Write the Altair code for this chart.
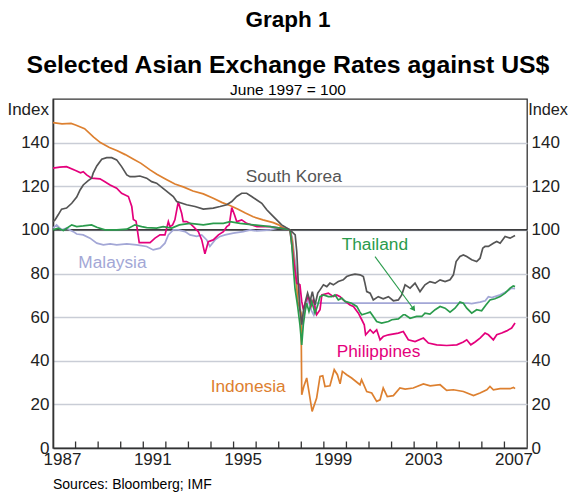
import altair as alt
import pandas as pd

# ---------------- data (index, June 1997 = 100) ----------------
countries = ["Malaysia", "Indonesia", "Philippines", "Thailand", "South Korea"]
colors = ["#A3A7D6", "#DD8030", "#E4007C", "#2A9B4C", "#555555"]

kor_year = [1987.0, 1987.09, 1987.23, 1987.38, 1987.6, 1987.83, 1988.05, 1988.2, 1988.34, 1988.56,
            1988.71, 1988.78, 1988.94, 1989.16, 1989.38, 1989.6, 1989.82, 1990.04, 1990.27, 1990.41,
            1990.63, 1990.85, 1991.15, 1991.37, 1991.59, 1991.96, 1992.33, 1992.48, 1992.92, 1993.29,
            1993.66, 1994.1, 1994.4, 1994.7, 1994.92, 1995.14, 1995.36, 1995.58, 1995.8, 1996.03,
            1996.25, 1996.47, 1996.69, 1996.91, 1997.13, 1997.5, 1997.73, 1997.8, 1997.87, 1997.94,
            1998.02, 1998.09, 1998.2, 1998.28, 1998.39, 1998.49, 1998.61, 1998.73, 1998.83, 1998.98,
            1999.13, 1999.27, 1999.42, 1999.64, 1999.86, 2000.01, 2000.23, 2000.38, 2000.6, 2000.75,
            2000.82, 2000.9, 2001.05, 2001.19, 2001.41, 2001.63, 2001.86, 2002.08, 2002.3, 2002.45,
            2002.6, 2002.82, 2003.04, 2003.26, 2003.48, 2003.7, 2003.93, 2004.15, 2004.37, 2004.59,
            2004.74, 2004.86, 2005.03, 2005.18, 2005.33, 2005.55, 2005.77, 2005.92, 2006.04, 2006.14,
            2006.29, 2006.51, 2006.66, 2006.81, 2007.03, 2007.25, 2007.47]
kor_val = [103.8, 104.6, 106.9, 109.5, 110.0, 112.2, 115.0, 118.3, 120.6, 122.6,
           123.7, 126.0, 129.3, 132.4, 133.1, 133.1, 132.1, 129.0, 125.2, 124.4,
           124.4, 124.7, 123.7, 122.1, 121.4, 118.3, 115.3, 113.0, 111.5, 110.7,
           109.5, 110.0, 110.7, 111.5, 113.0, 115.3, 116.8, 116.8, 115.3, 113.7,
           112.2, 109.2, 106.9, 104.6, 102.3, 100.0, 97.7, 90.0, 74.8, 63.4,
           56.5, 62.6, 67.9, 71.0, 67.2, 71.7, 65.6, 71.0, 72.5, 74.8,
           74.0, 75.6, 74.8, 76.3, 77.1, 78.6, 79.4, 79.7, 79.4, 78.6,
           75.6, 71.7, 71.0, 67.9, 69.4, 68.4, 69.4, 67.5, 67.9, 70.2,
           74.8, 73.3, 75.6, 71.7, 74.8, 76.3, 75.6, 77.1, 76.3, 77.1,
           79.4, 85.5, 87.8, 88.5, 87.8, 86.3, 85.5, 87.0, 91.6, 92.4,
           92.4, 93.9, 94.7, 93.9, 97.0, 96.2, 97.4]

idn_year = [1987.0, 1987.4, 1987.8, 1988.0, 1988.4, 1988.8, 1989.1, 1989.5, 1989.85, 1990.2,
            1990.55, 1990.9, 1991.3, 1991.6, 1992.0, 1992.4, 1992.8, 1993.2, 1993.66, 1994.1,
            1994.5, 1994.84, 1995.2, 1995.5, 1995.87, 1996.3, 1996.76, 1997.0, 1997.2, 1997.5,
            1997.6, 1997.7, 1997.77, 1997.85, 1997.93, 1997.99, 1998.02, 1998.11, 1998.24, 1998.35,
            1998.48, 1998.68, 1998.83, 1998.95, 1999.05, 1999.27, 1999.46, 1999.6, 1999.72, 1999.82,
            2000.01, 2000.23, 2000.6, 2000.67, 2000.9, 2001.12, 2001.34, 2001.49, 2001.63, 2001.81,
            2002.08, 2002.37, 2002.6, 2002.96, 2003.41, 2003.71, 2004.15, 2004.44, 2004.74, 2005.18,
            2005.63, 2005.92, 2006.22, 2006.36, 2006.51, 2006.81, 2007.25, 2007.4, 2007.47]
idn_val = [149.2, 148.6, 148.8, 148.1, 146.4, 142.5, 140.0, 137.8, 136.3, 134.5,
           132.5, 130.5, 127.5, 125.5, 123.2, 121.0, 119.6, 117.8, 116.5, 114.5,
           112.5, 111.2, 109.5, 107.8, 106.0, 104.6, 103.3, 102.3, 100.9, 100.0,
           95.0, 84.0, 77.0, 67.0, 64.0, 62.0, 24.4, 28.2, 32.1, 25.2,
           16.8, 22.9, 32.8, 33.1, 28.2, 28.5, 35.9, 33.6, 29.4, 35.1,
           33.6, 32.1, 29.0, 31.3, 25.9, 25.2, 21.4, 22.1, 27.5, 23.6,
           24.0, 27.5, 27.0, 27.5, 29.4, 28.5, 29.0, 26.4, 26.7, 25.9,
           24.0, 25.2, 26.7, 28.2, 26.7, 27.2, 27.2, 27.8, 27.2]

phl_year = [1987.0, 1987.3, 1987.6, 1988.0, 1988.22, 1988.34, 1988.49, 1988.71, 1989.08, 1989.3,
            1989.53, 1989.82, 1990.04, 1990.34, 1990.49, 1990.56, 1990.68, 1990.82, 1991.3, 1991.52,
            1991.74, 1991.96, 1992.11, 1992.18, 1992.3, 1992.4, 1992.55, 1992.7, 1992.77, 1992.92,
            1993.07, 1993.22, 1993.44, 1993.59, 1993.73, 1993.88, 1994.1, 1994.33, 1994.55, 1994.7,
            1994.81, 1994.92, 1995.04, 1995.14, 1995.36, 1995.58, 1996.03, 1996.62, 1997.06, 1997.5,
            1997.65, 1997.8, 1997.94, 1998.02, 1998.09, 1998.2, 1998.31, 1998.43, 1998.53, 1998.68,
            1998.83, 1998.91, 1999.2, 1999.42, 1999.57, 1999.72, 1999.86, 2000.16, 2000.31, 2000.53,
            2000.68, 2000.79, 2000.85, 2001.05, 2001.19, 2001.34, 2001.49, 2001.63, 2001.86, 2002.3,
            2002.52, 2002.74, 2003.04, 2003.41, 2003.63, 2004.0, 2004.44, 2004.89, 2005.18, 2005.33,
            2005.51, 2005.7, 2005.92, 2006.14, 2006.29, 2006.51, 2006.66, 2006.88, 2007.1, 2007.32,
            2007.47]
phl_val = [128.3, 128.8, 129.0, 127.2, 126.2, 126.7, 125.2, 123.7, 123.4, 122.1,
           120.6, 119.1, 116.8, 115.3, 110.7, 104.8, 104.0, 94.2, 94.2, 96.2,
           97.7, 97.7, 103.8, 101.5, 102.3, 104.6, 112.8, 107.6, 103.8, 103.8,
           103.0, 101.5, 99.2, 95.4, 89.0, 94.6, 95.4, 97.7, 99.2, 101.5,
           102.3, 110.2, 106.9, 103.8, 104.6, 103.0, 101.5, 101.5, 100.8, 100.0,
           87.0, 75.6, 74.8, 67.2, 63.4, 67.2, 69.4, 64.9, 67.9, 61.1,
           63.4, 70.2, 71.0, 69.4, 70.2, 69.4, 67.9, 65.6, 64.9, 61.8,
           58.8, 56.5, 51.9, 54.2, 52.7, 54.2, 49.6, 51.1, 51.9, 52.7,
           53.4, 49.6, 48.8, 50.4, 48.1, 47.3, 47.0, 47.3, 48.6, 49.6,
           47.3, 48.6, 50.4, 52.7, 51.9, 49.6, 51.9, 52.7, 53.7, 55.0,
           57.3]

tha_year = [1987.0, 1987.23, 1987.46, 1987.83, 1988.05, 1988.34, 1988.71, 1988.94, 1989.3, 1989.82,
            1990.27, 1990.63, 1990.93, 1991.15, 1991.59, 1991.88, 1992.26, 1992.6, 1993.07, 1993.66,
            1994.1, 1994.55, 1994.84, 1995.29, 1995.87, 1996.62, 1997.06, 1997.5, 1997.58, 1997.65,
            1997.72, 1997.84, 1997.94, 1998.02, 1998.09, 1998.17, 1998.24, 1998.34, 1998.46, 1998.61,
            1998.73, 1998.83, 1998.98, 1999.2, 1999.35, 1999.49, 1999.64, 1999.79, 1999.94, 2000.23,
            2000.46, 2000.6, 2000.68, 2000.9, 2001.05, 2001.19, 2001.34, 2001.56, 2001.86, 2002.01,
            2002.3, 2002.52, 2002.6, 2002.82, 2003.11, 2003.34, 2003.48, 2003.7, 2003.93, 2004.15,
            2004.37, 2004.59, 2004.81, 2005.03, 2005.18, 2005.33, 2005.55, 2005.77, 2005.99, 2006.18,
            2006.36, 2006.58, 2006.81, 2007.03, 2007.25, 2007.39, 2007.47]
tha_val = [100.0, 100.8, 99.7, 102.3, 101.5, 101.8, 102.3, 101.2, 100.0, 100.0,
           100.3, 102.3, 101.5, 101.0, 100.8, 101.5, 100.8, 102.3, 103.0, 102.3,
           103.0, 103.0, 103.8, 103.0, 102.3, 101.5, 100.8, 100.0, 93.1, 82.4,
           73.3, 64.9, 56.5, 47.3, 56.5, 62.6, 66.4, 62.6, 67.2, 61.8,
           65.6, 69.4, 70.2, 69.4, 69.4, 70.2, 67.9, 68.7, 67.2, 66.4,
           64.9, 62.3, 61.1, 61.8, 62.3, 60.3, 58.0, 57.3, 58.0, 58.8,
           59.2, 61.1, 61.1, 59.5, 60.3, 60.3, 61.8, 61.4, 63.4, 64.9,
           64.1, 62.3, 64.1, 66.9, 66.4, 64.1, 61.8, 63.4, 62.9, 65.6,
           67.9, 68.4, 69.4, 71.0, 73.3, 74.3, 74.0]

mys_year = [1987.0, 1987.16, 1987.38, 1987.6, 1987.9, 1988.05, 1988.34, 1988.64, 1988.94, 1989.23,
            1989.53, 1989.82, 1990.27, 1990.71, 1991.15, 1991.44, 1991.74, 1991.96, 1992.11, 1992.33,
            1992.55, 1992.85, 1993.07, 1993.37, 1993.59, 1993.81, 1993.95, 1994.18, 1994.4, 1994.62,
            1994.99, 1995.43, 1995.73, 1996.03, 1996.62, 1997.2, 1997.5, 1997.6, 1997.7, 1997.8,
            1997.9, 1997.97, 1998.03, 1998.1, 1998.2, 1998.3, 1998.45, 1998.55, 1998.65, 2000.0,
            2002.0, 2004.0, 2005.4, 2005.55, 2005.92, 2006.15, 2006.29, 2006.44, 2006.81, 2007.1,
            2007.32, 2007.47]
mys_val = [100.8, 102.3, 100.0, 100.8, 99.2, 98.1, 97.7, 96.2, 93.9, 93.1,
           93.6, 93.1, 93.6, 93.1, 92.4, 90.8, 91.6, 93.9, 97.7, 100.0,
           100.0, 99.2, 97.7, 97.0, 97.7, 95.4, 92.4, 95.4, 97.0, 97.7,
           98.5, 99.2, 100.0, 99.5, 100.0, 101.5, 100.0, 96.5, 88.0, 80.0,
           74.0, 62.0, 54.0, 60.0, 65.0, 68.0, 63.0, 61.0, 66.4, 66.4,
           66.4, 66.4, 66.4, 66.2, 66.9, 67.5, 69.4, 69.0, 70.2, 71.7,
           73.3, 73.0]

y_ticks = [0, 20, 40, 60, 80, 100, 120, 140]
x_label_years = [1987, 1991, 1995, 1999, 2003, 2007]
x_tick_years = list(range(1988, 2008))

series = {
    "Malaysia": (mys_year, mys_val),
    "Indonesia": (idn_year, idn_val),
    "Philippines": (phl_year, phl_val),
    "Thailand": (tha_year, tha_val),
    "South Korea": (kor_year, kor_val),
}
rows = []
for name, (ys, vs) in series.items():
    for yr, v in zip(ys, vs):
        rows.append({"country": name, "year": yr, "value": v})
df = pd.DataFrame(rows)

# ---------------- chart ----------------
FONT = "Liberation Sans"
W, H = 474, 349
xscale = alt.Scale(domain=[1987, 2008], nice=False, zero=False)
yscale = alt.Scale(domain=[0, 160], nice=False)
cscale = alt.Scale(domain=countries, range=colors)

x_axis = alt.Axis(values=[y + 0.4 for y in x_label_years], labelExpr="'' + floor(datum.value)",
                  ticks=False, grid=False, domainColor="#333333", domainWidth=1.6,
                  labelFontSize=17, labelPadding=3, labelColor="#222222", title=None,
                  labelFlush=False)
y_axis_left = alt.Axis(values=y_ticks, ticks=False, grid=True, gridColor="#C9CDD6", gridWidth=1.4,
                       domainColor="#333333", domainWidth=1.6, labelFontSize=17, labelPadding=4,
                       labelColor="#222222", title=None)

line_layers = []
for name in countries:
    line_layers.append(
        alt.Chart(df).transform_filter(alt.datum.country == name).mark_line(strokeWidth=1.7).encode(
            x=alt.X("year:Q", scale=xscale, axis=x_axis),
            y=alt.Y("value:Q", scale=yscale, axis=y_axis_left),
            color=alt.Color("country:N", scale=cscale, legend=None),
        )
    )
lines = alt.layer(*line_layers)

ref_rule = alt.Chart(pd.DataFrame({"v": [100]})).mark_rule(color="#000000", strokeWidth=1.3).encode(
    y=alt.Y("v:Q", scale=yscale,
            axis=alt.Axis(orient="right", values=y_ticks, ticks=False, grid=False, domain=False,
                          labelFontSize=17, labelPadding=4, labelColor="#222222", title=None))
)

xticks = alt.Chart(pd.DataFrame({"year": x_tick_years})).mark_rule(color="#333333", strokeWidth=1.3).encode(
    x=alt.X("year:Q", scale=xscale, axis=x_axis),
    y=alt.value(H), y2=alt.value(H - 6.5),
)


def label(text, x, y, size=17.3, color="#222222", align="left", weight="normal"):
    return alt.Chart(pd.DataFrame({"t": [text]})).mark_text(
        align=align, baseline="alphabetic", fontSize=size, color=color, fontWeight=weight, font=FONT
    ).encode(text="t:N", x=alt.value(x), y=alt.value(y))


texts = [
    label("Graph 1", 235, -72, size=22.5, align="center", weight="bold", color="#000000"),
    label("Selected Asian Exchange Rates against US$", 235, -26, size=24.8, align="center",
          weight="bold", color="#000000"),
    label("June 1997 = 100", 235, -4, size=15.5, align="center", color="#000000"),
    label("Index", -4, 16, size=17, align="right"),
    label("Index", 515, 16, size=16.3, align="right"),
    label("Sources: Bloomberg; IMF", 0, 389.5, size=14, align="left", color="#000000"),
    label("South Korea", 192.7, 82.7, color="#555555"),
    label("Malaysia", 25.3, 169, color="#A3A7D6"),
    label("Thailand", 288.7, 151, color="#2A9B4C"),
    label("Philippines", 283.7, 257.7, color="#E4007C"),
    label("Indonesia", 157.7, 292.7, color="#DD8030"),
]

arrow_line = alt.Chart(pd.DataFrame({"a": [0]})).mark_rule(color="#2A9B4C", strokeWidth=1.1).encode(
    x=alt.value(322), y=alt.value(157.7), x2=alt.value(359.5), y2=alt.value(208.5)
)
arrow_head = alt.Chart(pd.DataFrame({"a": [0]})).mark_point(
    shape="triangle-up", filled=True, size=38, angle=144, color="#2A9B4C", opacity=1
).encode(x=alt.value(360.6), y=alt.value(210.2))

chart = alt.layer(
    ref_rule, lines, xticks, arrow_line, arrow_head, *texts
).resolve_scale(y="independent").properties(
    width=W, height=H,
    autosize=alt.AutoSizeParams(type="none"),
    padding={"left": 45, "top": 91, "right": 41, "bottom": 44},
).configure(font=FONT).configure_view(stroke="#333333", strokeWidth=1.3)

chart.save("out.html", embed_options={"renderer": "svg", "actions": False})
